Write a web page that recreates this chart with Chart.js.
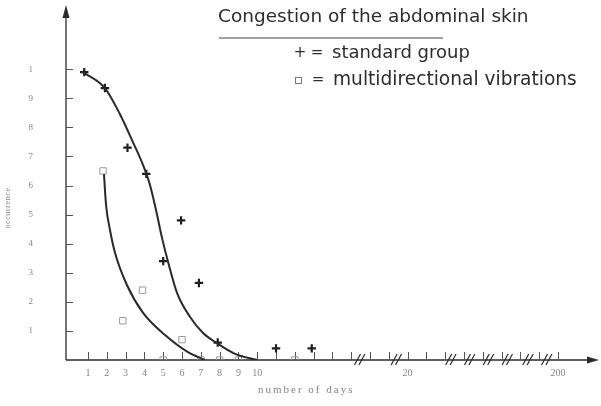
<!DOCTYPE html>
<html>
<head>
<meta charset="utf-8">
<title>Congestion of the abdominal skin</title>
<script src="https://cdn.jsdelivr.net/npm/chart.js@4.4.1/dist/chart.umd.min.js"></script>
<style>
    html, body { margin: 0; padding: 0; background: #fff; }
</style>
</head>
<body>
<canvas id="congestionChart" width="601" height="406"></canvas>
<script>
// x values are slots on the broken day axis (slots 1-15 = days 1-15)
const xTickSlots  = [1, 2, 3, 4, 5, 6, 7, 8, 9, 10, 11, 12, 13, 14, 15, 16, 17, 18, 19, 20, 21, 22, 23, 24, 25, 26];
const xTickLabels = ['1', '2', '3', '4', '5', '6', '7', '8', '9', '10', '', '', '', '', '', '', '', '20', '', '', '', '', '', '', '', '200'];
const xBreaks = [15.45, 17.4, 20.3, 21.3, 22.3, 23.3, 24.4, 25.4];

const yTickValues = [0.1, 0.2, 0.3, 0.4, 0.5, 0.6, 0.7, 0.8, 0.9, 1.0];
const yTickLabels = ['1', '2', '3', '4', '5', '6', '7', '8', '9', '1'];

// + = standard group
const standardDays   = [0.8, 1.9, 3.1, 4.1, 5.0, 5.95, 6.9, 7.9, 11, 12.9];
const standardValues = [0.99, 0.935, 0.73, 0.64, 0.34, 0.48, 0.265, 0.06, 0.04, 0.04];

// square = multidirectional vibrations
const vibrationDays   = [1.8, 2.85, 3.9, 5, 6, 7, 8, 9, 12];
const vibrationValues = [0.65, 0.135, 0.24, 0, 0.07, 0, 0, 0, 0];

// fitted curves as drawn in the figure
const standardFitDays   = [0.73, 1.9, 2.7, 3.39, 3.93, 4.3, 4.62, 4.94, 5.26, 5.74, 6.43, 7.12, 7.86, 8.82, 9.99];
const standardFitValues = [0.99, 0.935, 0.845, 0.749, 0.67, 0.601, 0.515, 0.419, 0.337, 0.23, 0.148, 0.093, 0.058, 0.021, 0];
const vibrationFitDays   = [1.85, 1.96, 2.17, 2.44, 3.07, 3.93, 5.1, 6.32, 7.22];
const vibrationFitValues = [0.639, 0.533, 0.447, 0.368, 0.258, 0.162, 0.086, 0.027, 0];

function toPoints(xs, ys) {
    return xs.map((x, i) => ({ x: x, y: ys[i] }));
}

const INK = '#2a2a2a';
const GREY = '#858585';

// axes with arrows, inward ticks, break marks, title and legend
const figureDecor = {
    id: 'figureDecor',
    beforeDatasetsDraw(chart) {
        const ctx = chart.ctx;
        const xs = chart.scales.x;
        const ys = chart.scales.y;
        const x0 = xs.left;
        const y0 = ys.bottom;

        ctx.save();
        ctx.strokeStyle = INK;
        ctx.fillStyle = INK;
        ctx.lineWidth = 1.3;

        // y axis + arrow
        ctx.beginPath();
        ctx.moveTo(x0, y0);
        ctx.lineTo(x0, 16);
        ctx.stroke();
        ctx.beginPath();
        ctx.moveTo(x0, 5);
        ctx.lineTo(x0 - 3.5, 18);
        ctx.lineTo(x0 + 3.5, 18);
        ctx.closePath();
        ctx.fill();

        // x axis + arrow
        ctx.beginPath();
        ctx.moveTo(x0, y0);
        ctx.lineTo(590, y0);
        ctx.stroke();
        ctx.beginPath();
        ctx.moveTo(599, y0);
        ctx.lineTo(587, y0 - 3.5);
        ctx.lineTo(587, y0 + 3.5);
        ctx.closePath();
        ctx.fill();

        ctx.lineWidth = 1;
        ctx.strokeStyle = '#555';
        yTickValues.forEach(v => {
            const py = Math.round(ys.getPixelForValue(v)) + 0.5;
            ctx.beginPath();
            ctx.moveTo(x0, py);
            ctx.lineTo(x0 + 7, py);
            ctx.stroke();
        });
        xTickSlots.forEach(v => {
            const px = Math.round(xs.getPixelForValue(v)) + 0.5;
            ctx.beginPath();
            ctx.moveTo(px, y0);
            ctx.lineTo(px, y0 - 8);
            ctx.stroke();
        });

        // axis break marks //
        ctx.strokeStyle = INK;
        ctx.lineWidth = 1.2;
        xBreaks.forEach(b => {
            const px = xs.getPixelForValue(b);
            [-2.2, 2.2].forEach(d => {
                ctx.beginPath();
                ctx.moveTo(px + d - 3, y0 + 5);
                ctx.lineTo(px + d + 3, y0 - 6);
                ctx.stroke();
            });
        });
        ctx.restore();
    },
    afterDraw(chart) {
        const ctx = chart.ctx;
        ctx.save();

        // title block
        ctx.fillStyle = '#2d2d2d';
        ctx.textBaseline = 'middle';
        ctx.textAlign = 'left';
        ctx.font = '18.5px "DejaVu Sans"';
        ctx.fillText('Congestion of the abdominal skin', 218, 17);

        ctx.strokeStyle = '#444';
        ctx.lineWidth = 1.2;
        ctx.beginPath();
        ctx.moveTo(219, 38);
        ctx.lineTo(443, 38);
        ctx.stroke();

        // legend
        ctx.font = '15px "DejaVu Sans"';
        ctx.textAlign = 'center';
        ctx.fillText('+', 300, 53);
        ctx.fillText('=', 317, 53);
        ctx.fillText('=', 318, 80);
        ctx.textAlign = 'left';
        ctx.font = '18px "DejaVu Sans"';
        ctx.fillText('standard group', 332, 53);
        ctx.font = '18.6px "DejaVu Sans"';
        ctx.fillText('multidirectional vibrations', 333, 80);
        ctx.strokeStyle = '#777';
        ctx.lineWidth = 1;
        ctx.strokeRect(295.5, 77.5, 6, 6);

        // axis titles
        ctx.fillStyle = GREY;
        ctx.font = '11px "Liberation Serif"';
        ctx.letterSpacing = '2px';
        ctx.fillText('number of days', 258, 390);

        ctx.font = '8px "Liberation Serif"';
        ctx.letterSpacing = '0.6px';
        ctx.translate(8, 208);
        ctx.rotate(-Math.PI / 2);
        ctx.textAlign = 'center';
        ctx.fillText('occurrence', 0, 0);
        ctx.restore();
    }
};

const ctx = document.getElementById('congestionChart').getContext('2d');

new Chart(ctx, {
    type: 'scatter',
    data: {
        datasets: [{
            type: 'line',
            label: 'standard group fit',
            data: toPoints(standardFitDays, standardFitValues),
            borderColor: INK,
            borderWidth: 2,
            pointRadius: 0,
            fill: false,
            cubicInterpolationMode: 'monotone'
        }, {
            type: 'line',
            label: 'multidirectional vibrations fit',
            data: toPoints(vibrationFitDays, vibrationFitValues),
            borderColor: INK,
            borderWidth: 2,
            pointRadius: 0,
            fill: false,
            cubicInterpolationMode: 'monotone'
        }, {
            label: 'standard group',
            data: toPoints(standardDays, standardValues),
            pointStyle: 'cross',
            pointRadius: 4.2,
            borderColor: '#1e1e1e',
            borderWidth: 2.2
        }, {
            label: 'multidirectional vibrations',
            data: toPoints(vibrationDays, vibrationValues),
            pointStyle: 'rect',
            pointRadius: 4.5,
            backgroundColor: 'rgba(255,255,255,0)',
            borderColor: '#9a9a9a',
            borderWidth: 1
        }]
    },
    options: {
        responsive: false,
        animation: false,
        layout: {
            padding: { top: 11, right: 11, left: 0, bottom: 0 }
        },
        scales: {
            x: {
                type: 'linear',
                bounds: 'data',
                min: -0.17,
                max: 27.7,
                afterBuildTicks: scale => {
                    scale.ticks = xTickSlots.map(v => ({ value: v }));
                },
                afterFit: scale => {
                    scale.height = 46;
                },
                grid: { display: false, drawTicks: false },
                border: { display: false },
                ticks: {
                    autoSkip: false,
                    maxRotation: 0,
                    padding: 7,
                    color: GREY,
                    font: { family: 'Liberation Serif', size: 10 },
                    callback: function(value, index) {
                        return xTickLabels[index];
                    }
                }
            },
            y: {
                bounds: 'data',
                min: 0,
                max: 1.2,
                afterBuildTicks: scale => {
                    scale.ticks = yTickValues.map(v => ({ value: v }));
                },
                afterFit: scale => {
                    scale.width = 66;
                    // the wide label padding should not push the plot down
                    scale.paddingTop = 0;
                    scale.paddingBottom = 0;
                },
                grid: { display: false, drawTicks: false },
                border: { display: false },
                ticks: {
                    padding: 33,
                    color: GREY,
                    font: { family: 'Liberation Serif', size: 9 },
                    callback: function(value, index) {
                        return yTickLabels[index];
                    }
                }
            }
        },
        plugins: {
            legend: { display: false },
            tooltip: { enabled: false }
        }
    },
    plugins: [figureDecor]
});
</script>
</body>
</html>
